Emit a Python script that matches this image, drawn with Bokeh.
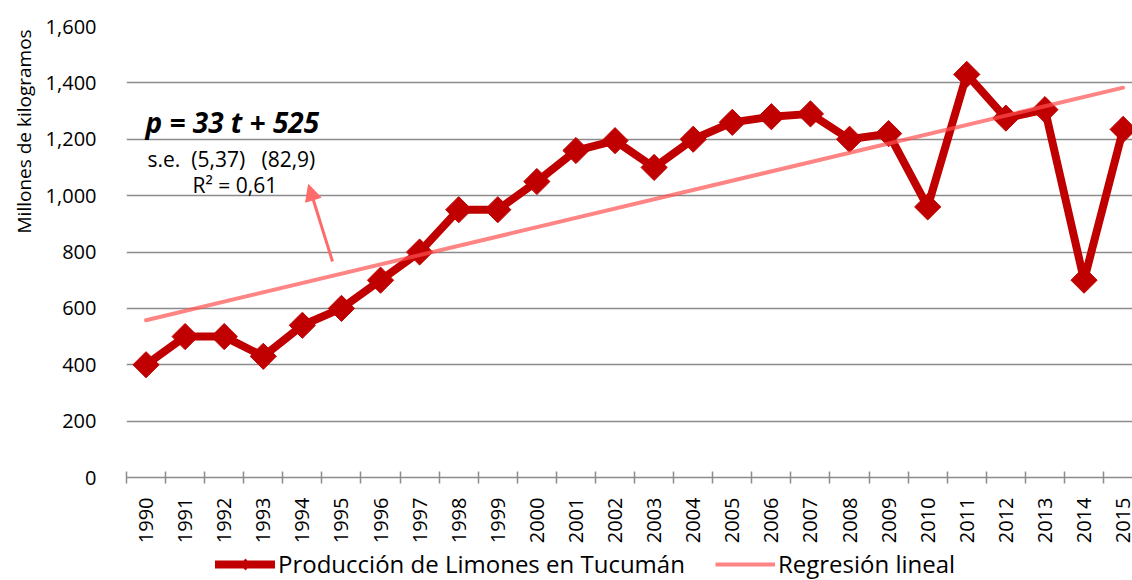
from math import pi
from bokeh.plotting import figure
from bokeh.layouts import column
from bokeh.models import (FixedTicker, NumeralTickFormatter, Range1d, Label, Arrow,
                          NormalHead, Legend, LegendItem, Title)
from bokeh.embed import file_html
from bokeh.resources import INLINE

years = list(range(1990, 2016))
produccion = [400, 500, 500, 430, 540, 600, 700, 800, 950, 950, 1050, 1160, 1195, 1100,
              1200, 1260, 1280, 1290, 1200, 1220, 960, 1430, 1275, 1305, 700, 1235]
reg_years = [1990, 2015]
reg_values = [558, 1383]   # p = 33 t + 525, t = 1..26
y_ticks = [0, 200, 400, 600, 800, 1000, 1200, 1400, 1600]
series_names = ["Producción de Limones en Tucumán", "Regresión lineal"]

FONT = "Open Sans"
DARK_RED = "#C00000"
SALMON = "#FF5050"
GRID = "#8c8c8c"
NB = "\u00a0"

p = figure(frame_width=1006, frame_height=451, min_border_left=126, min_border_right=0,
           min_border_top=26, min_border_bottom=75, output_backend="svg",
           toolbar_location=None, x_range=Range1d(1989.5, 2015.24), y_range=Range1d(0, 1600))
p.outline_line_color = None
p.background_fill_color = "white"

# axes
p.xaxis.ticker = FixedTicker(ticks=years, minor_ticks=[y - 0.5 for y in years] + [2015.5])
p.xaxis.major_tick_in = 0
p.xaxis.major_tick_out = 0
p.xaxis.minor_tick_in = 6
p.xaxis.minor_tick_out = 6
p.xaxis.minor_tick_line_color = GRID
p.xaxis.minor_tick_line_width = 1.5
p.xaxis.axis_line_color = GRID
p.xaxis.axis_line_width = 1.5
p.xaxis.major_label_orientation = pi / 2
p.xaxis.major_label_standoff = 14
p.xaxis.major_label_text_font = FONT
p.xaxis.major_label_text_font_size = "20px"
p.xaxis.major_label_text_color = "black"

p.yaxis.ticker = FixedTicker(ticks=y_ticks)
p.yaxis.formatter = NumeralTickFormatter(format="0,0")
p.yaxis.axis_line_color = None
p.yaxis.major_tick_line_color = None
p.yaxis.minor_tick_line_color = None
p.yaxis.major_label_standoff = 24
p.yaxis.major_label_text_font = FONT
p.yaxis.major_label_text_font_size = "20px"
p.yaxis.major_label_text_color = "black"

p.xgrid.grid_line_color = None
p.ygrid.grid_line_color = GRID
p.ygrid.grid_line_width = 1.5

# series
p.line(years, produccion, line_color=DARK_RED, line_width=8, line_join="round")
p.scatter(years, produccion, marker="square", angle=pi / 4, size=18.5, fill_color=DARK_RED,
          line_color=DARK_RED)
p.line(reg_years, reg_values, line_color=SALMON, line_alpha=0.7, line_width=4,
       line_cap="round")

# y axis title (vertical, placed toward the top like the reference)
p.add_layout(Title(text="Millones de kilogramos", align="left", offset=244, standoff=12,
                   text_font=FONT, text_font_size="19px", text_font_style="normal",
                   text_color="black"), "left")

# annotations
def px_to_x(px):
    return 1989.5 + (px - 126) / 39.08

def px_to_y(py):
    return (477 - py) / 0.2819

p.add_layout(Label(x=px_to_x(145), y=px_to_y(121), text="p = 33 t + 525", text_align="left",
                   text_baseline="middle", text_font=FONT, text_font_size="28px",
                   text_font_style="bold italic", text_color="black"))
p.add_layout(Label(x=px_to_x(147), y=px_to_y(158),
                   text="s.e." + NB * 2 + "(5,37)" + NB * 3 + "(82,9)",
                   text_align="left", text_baseline="middle", text_font=FONT,
                   text_font_size="21px", text_color="black"))
p.add_layout(Label(x=px_to_x(192), y=px_to_y(184), text="R² = 0,61", text_align="left",
                   text_baseline="middle", text_font=FONT, text_font_size="21px",
                   text_color="black"))
p.add_layout(Arrow(x_start=px_to_x(332), y_start=px_to_y(261), x_end=px_to_x(308),
                   y_end=px_to_y(184), line_color="#FF6B6B", line_width=3,
                   end=NormalHead(size=16, fill_color="#FF6B6B", line_color="#FF6B6B")))

# legend in its own strip below the chart (sample glyphs sit outside the strip's ranges)
lf = figure(width=1132, height=28, min_border=0, output_backend="svg", toolbar_location=None,
            x_axis_type=None, y_axis_type=None, x_range=Range1d(0, 1), y_range=Range1d(0, 1))
lf.outline_line_color = None
lf.grid.visible = False
r1 = lf.line([-10, -9], [-10, -9], line_color=DARK_RED, line_width=8, line_cap="round")
r2 = lf.scatter([-10], [-10], marker="diamond", size=16, fill_color=DARK_RED,
                line_color=DARK_RED)
r3 = lf.line([-10, -9], [-10, -9], line_color=SALMON, line_alpha=0.7, line_width=4)
legend = Legend(items=[LegendItem(label=series_names[0], renderers=[r1, r2]),
                       LegendItem(label=series_names[1], renderers=[r3])],
                orientation="horizontal", location=(89, 0), glyph_width=60,
                glyph_height=28, label_standoff=3, spacing=30, padding=0, margin=0,
                border_line_alpha=0, background_fill_alpha=0,
                label_text_font=FONT, label_text_font_size="24px", label_text_color="black")
lf.add_layout(legend, "center")

layout = column(p, lf, spacing=0)
open("out.html", "w").write(file_html(layout, INLINE))
